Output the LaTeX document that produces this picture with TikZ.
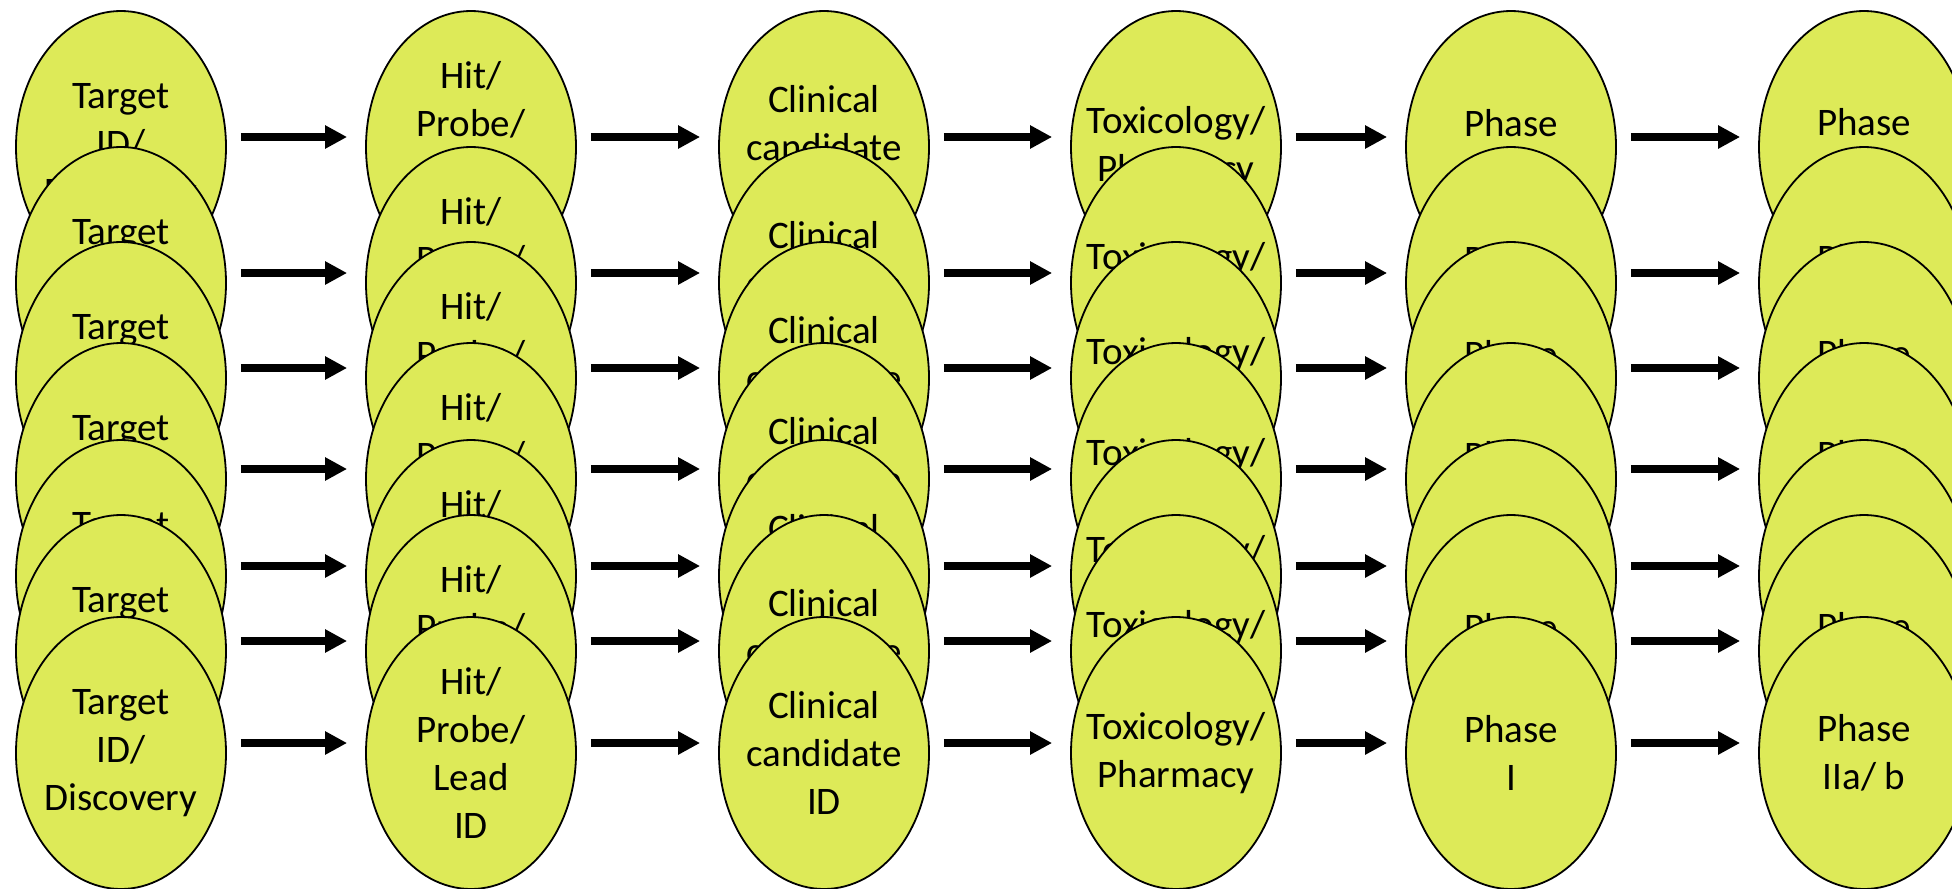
\documentclass[tikz,border=0pt]{standalone}
\usepackage{fontspec}
\setmainfont{Carlito}
\usepackage{tikz}
\usetikzlibrary{shapes.geometric,arrows.meta}

\definecolor{stagefill}{RGB}{221,234,88}

\begin{document}
\begin{tikzpicture}[
				x=0.5pt, y=-0.5pt,
				stage style/.style={
					ellipse,
					draw=black,
					line width=0.9pt,
					fill=stagefill,
					align=center,
					minimum width=105pt,
					minimum height=136pt,
					inner xsep=-14pt,
					inner ysep=0pt,
					font=\fontsize{19.5}{24}\selectfont
				},
				flow arrow/.style={
					-{Triangle[length=11pt,width=11pt]},
					line width=3.6pt,
					shorten <=7pt,
					shorten >=9pt
				}
				]
				\useasboundingbox (0,0) rectangle (1952,888);
				
				% row 1
				\node[stage style] (r1c1) at (121,147) {Target\\ID/\\Discovery};
				\node[stage style] (r1c2) at (471,147) {Hit/\\Probe/\\Lead\\ID};
				\node[stage style] (r1c3) at (824,147) {Clinical\\candidate\\ID};
				\node[stage style] (r1c4) at (1176,147) {Toxicology/\\Pharmacy};
				\node[stage style] (r1c5) at (1511,147) {Phase\\I};
				\node[stage style] (r1c6) at (1864,147) {Phase\\IIa/ b};
				
				% row 2
				\node[stage style] (r2c1) at (121,283) {Target\\ID/\\Discovery};
				\node[stage style] (r2c2) at (471,283) {Hit/\\Probe/\\Lead\\ID};
				\node[stage style] (r2c3) at (824,283) {Clinical\\candidate\\ID};
				\node[stage style] (r2c4) at (1176,283) {Toxicology/\\Pharmacy};
				\node[stage style] (r2c5) at (1511,283) {Phase\\I};
				\node[stage style] (r2c6) at (1864,283) {Phase\\IIa/ b};
				
				% row 3
				\node[stage style] (r3c1) at (121,378) {Target\\ID/\\Discovery};
				\node[stage style] (r3c2) at (471,378) {Hit/\\Probe/\\Lead\\ID};
				\node[stage style] (r3c3) at (824,378) {Clinical\\candidate\\ID};
				\node[stage style] (r3c4) at (1176,378) {Toxicology/\\Pharmacy};
				\node[stage style] (r3c5) at (1511,378) {Phase\\I};
				\node[stage style] (r3c6) at (1864,378) {Phase\\IIa/ b};
				
				% row 4
				\node[stage style] (r4c1) at (121,479) {Target\\ID/\\Discovery};
				\node[stage style] (r4c2) at (471,479) {Hit/\\Probe/\\Lead\\ID};
				\node[stage style] (r4c3) at (824,479) {Clinical\\candidate\\ID};
				\node[stage style] (r4c4) at (1176,479) {Toxicology/\\Pharmacy};
				\node[stage style] (r4c5) at (1511,479) {Phase\\I};
				\node[stage style] (r4c6) at (1864,479) {Phase\\IIa/ b};
				
				% row 5
				\node[stage style] (r5c1) at (121,576) {Target\\ID/\\Discovery};
				\node[stage style] (r5c2) at (471,576) {Hit/\\Probe/\\Lead\\ID};
				\node[stage style] (r5c3) at (824,576) {Clinical\\candidate\\ID};
				\node[stage style] (r5c4) at (1176,576) {Toxicology/\\Pharmacy};
				\node[stage style] (r5c5) at (1511,576) {Phase\\I};
				\node[stage style] (r5c6) at (1864,576) {Phase\\IIa/ b};
				
				% row 6
				\node[stage style] (r6c1) at (121,651) {Target\\ID/\\Discovery};
				\node[stage style] (r6c2) at (471,651) {Hit/\\Probe/\\Lead\\ID};
				\node[stage style] (r6c3) at (824,651) {Clinical\\candidate\\ID};
				\node[stage style] (r6c4) at (1176,651) {Toxicology/\\Pharmacy};
				\node[stage style] (r6c5) at (1511,651) {Phase\\I};
				\node[stage style] (r6c6) at (1864,651) {Phase\\IIa/ b};
				
				% row 7
				\node[stage style] (r7c1) at (121,753) {Target\\ID/\\Discovery};
				\node[stage style] (r7c2) at (471,753) {Hit/\\Probe/\\Lead\\ID};
				\node[stage style] (r7c3) at (824,753) {Clinical\\candidate\\ID};
				\node[stage style] (r7c4) at (1176,753) {Toxicology/\\Pharmacy};
				\node[stage style] (r7c5) at (1511,753) {Phase\\I};
				\node[stage style] (r7c6) at (1864,753) {Phase\\IIa/ b};
				
				% arrows
				\draw[flow arrow] ([yshift=5pt]r1c1.east) -- ([yshift=5pt]r1c2.west);
				\draw[flow arrow] ([yshift=5pt]r1c2.east) -- ([yshift=5pt]r1c3.west);
				\draw[flow arrow] ([yshift=5pt]r1c3.east) -- ([yshift=5pt]r1c4.west);
				\draw[flow arrow] ([yshift=5pt]r1c4.east) -- ([yshift=5pt]r1c5.west);
				\draw[flow arrow] ([yshift=5pt]r1c5.east) -- ([yshift=5pt]r1c6.west);
				
				\draw[flow arrow] ([yshift=5pt]r2c1.east) -- ([yshift=5pt]r2c2.west);
				\draw[flow arrow] ([yshift=5pt]r2c2.east) -- ([yshift=5pt]r2c3.west);
				\draw[flow arrow] ([yshift=5pt]r2c3.east) -- ([yshift=5pt]r2c4.west);
				\draw[flow arrow] ([yshift=5pt]r2c4.east) -- ([yshift=5pt]r2c5.west);
				\draw[flow arrow] ([yshift=5pt]r2c5.east) -- ([yshift=5pt]r2c6.west);
				
				\draw[flow arrow] ([yshift=5pt]r3c1.east) -- ([yshift=5pt]r3c2.west);
				\draw[flow arrow] ([yshift=5pt]r3c2.east) -- ([yshift=5pt]r3c3.west);
				\draw[flow arrow] ([yshift=5pt]r3c3.east) -- ([yshift=5pt]r3c4.west);
				\draw[flow arrow] ([yshift=5pt]r3c4.east) -- ([yshift=5pt]r3c5.west);
				\draw[flow arrow] ([yshift=5pt]r3c5.east) -- ([yshift=5pt]r3c6.west);
				
				\draw[flow arrow] ([yshift=5pt]r4c1.east) -- ([yshift=5pt]r4c2.west);
				\draw[flow arrow] ([yshift=5pt]r4c2.east) -- ([yshift=5pt]r4c3.west);
				\draw[flow arrow] ([yshift=5pt]r4c3.east) -- ([yshift=5pt]r4c4.west);
				\draw[flow arrow] ([yshift=5pt]r4c4.east) -- ([yshift=5pt]r4c5.west);
				\draw[flow arrow] ([yshift=5pt]r4c5.east) -- ([yshift=5pt]r4c6.west);
				
				\draw[flow arrow] ([yshift=5pt]r5c1.east) -- ([yshift=5pt]r5c2.west);
				\draw[flow arrow] ([yshift=5pt]r5c2.east) -- ([yshift=5pt]r5c3.west);
				\draw[flow arrow] ([yshift=5pt]r5c3.east) -- ([yshift=5pt]r5c4.west);
				\draw[flow arrow] ([yshift=5pt]r5c4.east) -- ([yshift=5pt]r5c5.west);
				\draw[flow arrow] ([yshift=5pt]r5c5.east) -- ([yshift=5pt]r5c6.west);
				
				\draw[flow arrow] ([yshift=5pt]r6c1.east) -- ([yshift=5pt]r6c2.west);
				\draw[flow arrow] ([yshift=5pt]r6c2.east) -- ([yshift=5pt]r6c3.west);
				\draw[flow arrow] ([yshift=5pt]r6c3.east) -- ([yshift=5pt]r6c4.west);
				\draw[flow arrow] ([yshift=5pt]r6c4.east) -- ([yshift=5pt]r6c5.west);
				\draw[flow arrow] ([yshift=5pt]r6c5.east) -- ([yshift=5pt]r6c6.west);
				
				\draw[flow arrow] ([yshift=5pt]r7c1.east) -- ([yshift=5pt]r7c2.west);
				\draw[flow arrow] ([yshift=5pt]r7c2.east) -- ([yshift=5pt]r7c3.west);
				\draw[flow arrow] ([yshift=5pt]r7c3.east) -- ([yshift=5pt]r7c4.west);
				\draw[flow arrow] ([yshift=5pt]r7c4.east) -- ([yshift=5pt]r7c5.west);
				\draw[flow arrow] ([yshift=5pt]r7c5.east) -- ([yshift=5pt]r7c6.west);
				
			\end{tikzpicture}
\end{document}
